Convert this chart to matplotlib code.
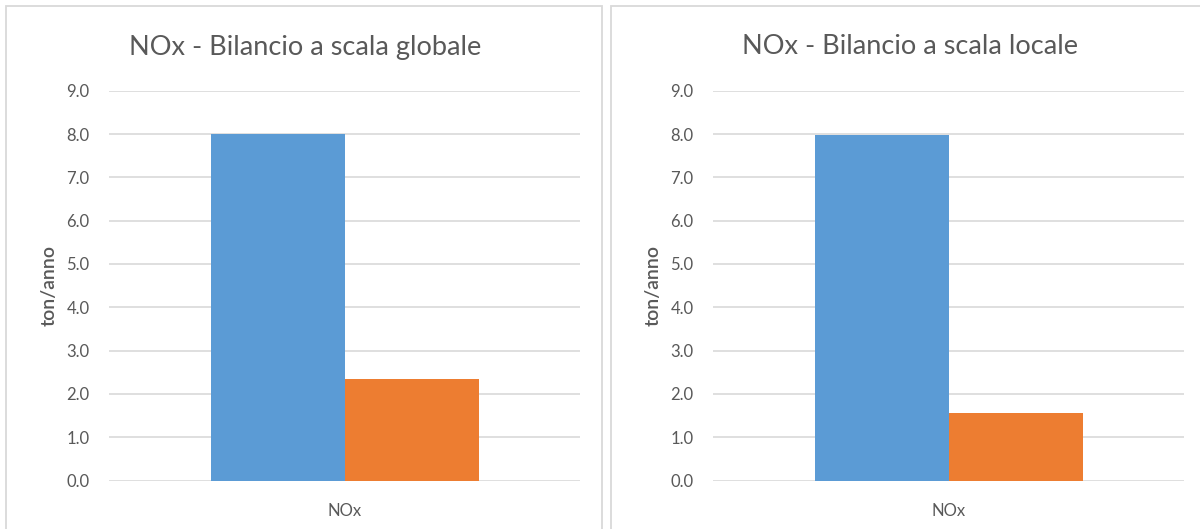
import matplotlib.pyplot as plt
from matplotlib.patches import Rectangle

# data
titles = ['NOx - Bilancio a scala globale', 'NOx - Bilancio a scala locale']
category = 'NOx'
serie_1 = [8.0, 7.98]   # blu
serie_2 = [2.35, 1.57]  # arancio
yticks = [0, 1, 2, 3, 4, 5, 6, 7, 8, 9]

blue = '#5b9bd5'
orange = '#ed7d31'
grey_txt = '#595959'
grid_col = '#d9d9d9'

plt.rcParams['font.family'] = ['Lato', 'DejaVu Sans']

fig = plt.figure(figsize=(12, 5.29), dpi=100)
W, H = 1200, 529

# panel frames (pixel coords)
for x0, x1 in [(6, 602), (611, 1205)]:
    fig.patches.append(Rectangle((x0 / W, -0.05), (x1 - x0) / W, (H - 6) / H + 0.05,
                                 transform=fig.transFigure, fill=False,
                                 edgecolor=grid_col, linewidth=1.3))

axes_left = [109, 713]
title_x = [305, 910]
bw = 134 / 471
for i in range(2):
    ax = fig.add_axes([axes_left[i] / W, 1 - 480.5 / H, 471 / W, (480.5 - 90.8) / H])
    ax.bar([-bw / 2], [serie_1[i]], width=bw, color=blue, zorder=3)
    ax.bar([bw / 2], [serie_2[i]], width=bw, color=orange, zorder=3)
    ax.set_xlim(-0.5, 0.5)
    ax.set_ylim(0, 9)
    ax.set_yticks(yticks)
    ax.set_yticklabels([f'{v:.1f}' for v in yticks])
    ax.set_xticks([0])
    ax.set_xticklabels([category])
    for s in ax.spines.values():
        s.set_visible(False)
    ax.grid(axis='y', color=grid_col, linewidth=1.2, zorder=0)
    ax.tick_params(length=0, labelsize=12, labelcolor=grey_txt)
    ax.tick_params(axis='y', pad=14)
    ax.tick_params(axis='x', pad=16)
    ax.set_ylabel('ton/anno', fontsize=14, fontweight='semibold', color=grey_txt, labelpad=6)
    fig.text(title_x[i] / W, 1 - 47 / H, titles[i], ha='center', va='center',
             fontsize=19.5, color=grey_txt)

fig.savefig('out.png', dpi=100)
